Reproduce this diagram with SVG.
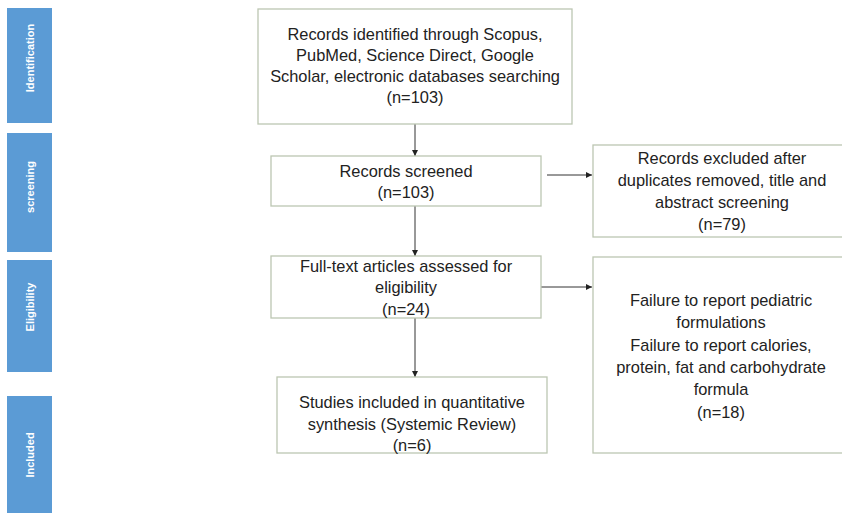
<svg xmlns="http://www.w3.org/2000/svg" width="842" height="513" viewBox="0 0 842 513">
<defs>
<marker id="ah" viewBox="0 0 10 10" refX="10" refY="5" markerWidth="6" markerHeight="6" orient="auto" markerUnits="userSpaceOnUse">
<path d="M0,0 L10,5 L0,10 z" fill="#222"/>
</marker>
<style>
.bar{fill:#5b9bd5;}
.bt{font-family:"Liberation Sans",Arial,sans-serif;font-size:11px;font-weight:bold;fill:#ffffff;text-anchor:middle;dominant-baseline:central;}
.box{fill:#ffffff;stroke:#bcc6b2;stroke-width:1.3;}
.t{font-family:"Liberation Sans",Arial,sans-serif;font-size:16.4px;fill:#222222;text-anchor:middle;}
.c{stroke:#333;stroke-width:1;fill:none;marker-end:url(#ah);}
</style>
</defs>
<rect width="842" height="513" fill="#ffffff"/>
<g id="bar-identification"><rect class="bar" x="7" y="8" width="45" height="115"/><text class="bt" transform="translate(30,58) rotate(-90)">Identification</text></g>
<g id="bar-screening"><rect class="bar" x="7" y="133" width="45" height="119"/><text class="bt" transform="translate(30,187) rotate(-90)">screening</text></g>
<g id="bar-eligibility"><rect class="bar" x="7" y="260" width="45" height="112"/><text class="bt" transform="translate(30,307) rotate(-90)">Eligibility</text></g>
<g id="bar-included"><rect class="bar" x="7" y="396" width="45" height="117"/><text class="bt" transform="translate(30,455) rotate(-90)">Included</text></g>
<g id="connectors">
<line class="c" x1="415" y1="124" x2="415" y2="156"/>
<line class="c" x1="415" y1="206" x2="415" y2="256"/>
<line class="c" x1="415" y1="318" x2="415" y2="377"/>
<line class="c" x1="547" y1="175" x2="592" y2="175"/>
<line class="c" x1="541" y1="287" x2="592" y2="287"/>
</g>
<g id="node-identified"><rect class="box" x="258" y="9" width="314" height="115"/>
<text class="t" x="415" y="40">Records identified through Scopus,</text>
<text class="t" x="415" y="61">PubMed, Science Direct, Google</text>
<text class="t" x="415" y="82">Scholar, electronic databases searching</text>
<text class="t" x="415" y="103">(n=103)</text></g>
<g id="node-screened"><rect class="box" x="271" y="156" width="270" height="50"/>
<text class="t" x="406" y="177">Records screened</text>
<text class="t" x="406" y="198">(n=103)</text></g>
<g id="node-excluded"><rect class="box" x="593" y="145" width="260" height="92"/>
<text class="t" x="722" y="164">Records excluded after</text>
<text class="t" x="722" y="186">duplicates removed, title and</text>
<text class="t" x="722" y="208">abstract screening</text>
<text class="t" x="722" y="230">(n=79)</text></g>
<g id="node-fulltext"><rect class="box" x="271" y="256" width="270" height="62"/>
<text class="t" x="406" y="272">Full-text articles assessed for</text>
<text class="t" x="406" y="293">eligibility</text>
<text class="t" x="406" y="315">(n=24)</text></g>
<g id="node-failure"><rect class="box" x="593" y="257" width="260" height="196"/>
<text class="t" x="721" y="306">Failure to report pediatric</text>
<text class="t" x="721" y="328">formulations</text>
<text class="t" x="721" y="351">Failure to report calories,</text>
<text class="t" x="721" y="373">protein, fat and carbohydrate</text>
<text class="t" x="721" y="395">formula</text>
<text class="t" x="721" y="418">(n=18)</text></g>
<g id="node-included"><rect class="box" x="277" y="377" width="270" height="76"/>
<text class="t" x="412" y="408">Studies included in quantitative</text>
<text class="t" x="412" y="430">synthesis (Systemic Review)</text>
<text class="t" x="412" y="451">(n=6)</text></g>
</svg>
